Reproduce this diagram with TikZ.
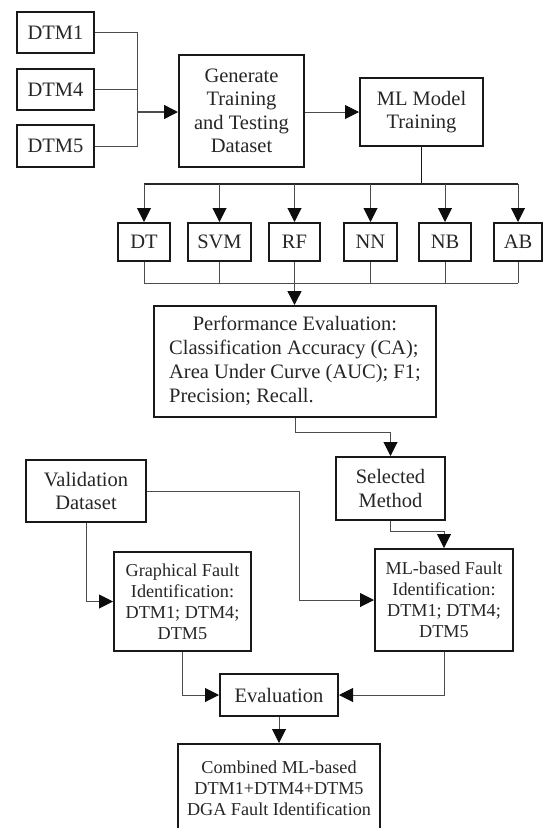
\documentclass[tikz,border=0pt]{standalone}
\usepackage{fontspec}
\setmainfont{Liberation Serif}
\usetikzlibrary{arrows.meta}
\begin{document}
\begin{tikzpicture}[x=1pt,y=-1pt,
  box/.style={draw=black!90, line width=2pt, text=black!85, inner sep=0pt,
    font=\fontsize{20.5}{23.5}\selectfont, align=center},
  smallbox/.style={box, font=\fontsize{18.2}{21}\selectfont},
  conn/.style={draw=black!70, line width=1pt},
  arr/.style={conn, -{Triangle[length=14pt,width=14pt,color=black!95]}}]
\clip (0,0) rectangle (543,828);
\useasboundingbox (0,0) rectangle (543,828);
% top row
\node[box, minimum width=77pt, minimum height=41pt] (d1) at (55.5,32.5) {DTM1};
\node[box, minimum width=77pt, minimum height=41pt] (d4) at (55.5,89.5) {DTM4};
\node[box, minimum width=77pt, minimum height=42pt] (d5) at (55.5,146) {DTM5};
\node[box, minimum width=125pt, minimum height=112pt] (gen) at (241.5,111) {Generate\\Training\\and Testing\\Dataset};
\node[box, minimum width=123pt, minimum height=68pt] (ml) at (421.5,112) {ML Model\\Training};
\coordinate (j) at (137,112);
\draw[conn] (d1.east) -| (j);
\draw[conn] (d4.east) -| (j);
\draw[conn] (d5.east) -| (j);
\draw[arr, line width=1.5pt] (j) -- (j -| gen.west);
\draw[arr] (gen.east |- j) -- (ml.west |- j);
% methods
\node[box, minimum width=52pt, minimum height=38pt] (dt) at (144,242) {DT};
\node[box, minimum width=63pt, minimum height=38pt] (svm) at (219.5,242) {SVM};
\node[box, minimum width=51pt, minimum height=38pt] (rf) at (294.5,242) {RF};
\node[box, minimum width=53pt, minimum height=38pt] (nn) at (370.5,242) {NN};
\node[box, minimum width=52pt, minimum height=38pt] (nb) at (445,242) {NB};
\node[box, minimum width=48pt, minimum height=38pt] (ab) at (518,242) {AB};
\coordinate (tb) at (0,184);
\coordinate (bb) at (0,283);
\draw[conn, line width=1.5pt, draw=black!90] (ml.south) -- (ml.south |- tb);
\draw[conn, line width=1.3pt, draw=black!85] (dt.north |- tb) -- (ab.north |- tb);
\foreach \n in {dt,svm,rf,nn,nb,ab}{
  \draw[arr] (\n.north |- tb) -- (\n.north);
  \draw[conn] (\n.south) -- (\n.south |- bb);
}
\draw[conn] (dt.south |- bb) -- (ab.south |- bb);
% performance
\node[box, minimum width=282pt, minimum height=111pt] (perf) at (295,361.5)
  {\begin{tabular}{@{}l@{}}\multicolumn{1}{@{}c@{}}{Performance Evaluation:}\\[0.5pt]
   Classification Accuracy (CA);\\[0.5pt] Area Under Curve (AUC); F1;\\[0.5pt] Precision; Recall.\end{tabular}};
\draw[arr, line width=1.5pt] (rf.south |- bb) -- (rf.south |- perf.north);
% lower part
\node[box, minimum width=109pt, minimum height=63pt] (sel) at (390.5,488.5) {Selected\\Method};
\node[box, minimum width=120pt, minimum height=62pt] (val) at (86,491) {Validation\\Dataset};
\node[smallbox, minimum width=137pt, minimum height=99pt] (graph) at (182.5,601.5) {Graphical Fault\\Identification:\\DTM1; DTM4;\\DTM5};
\node[smallbox, minimum width=138pt, minimum height=102pt] (mlf) at (444,600) {ML-based Fault\\Identification:\\DTM1; DTM4;\\DTM5};
\node[box, minimum width=118pt, minimum height=42pt] (eval) at (279,695) {Evaluation};
\node[smallbox, minimum width=202pt, minimum height=88pt] (comb) at (279,788) {Combined ML-based\\DTM1+DTM4+DTM5\\DGA Fault Identification};
\coordinate (c1) at (0,432);
\coordinate (c2) at (0,531);
\coordinate (c3) at (299,0);
\draw[arr] (perf.south) -- (perf.south |- c1) -| (sel.north);
\draw[arr] (sel.south) -- (sel.south |- c2) -| (mlf.north);
\draw[arr] (val.east) -| (c3 |- mlf.west) -- (mlf.west);
\draw[arr] (val.south) |- (graph.west);
\draw[arr] (graph.south) |- (eval.west);
\draw[arr] (mlf.south) |- (eval.east);
\draw[arr] (eval.south) -- (comb.north);
\end{tikzpicture}
\end{document}
